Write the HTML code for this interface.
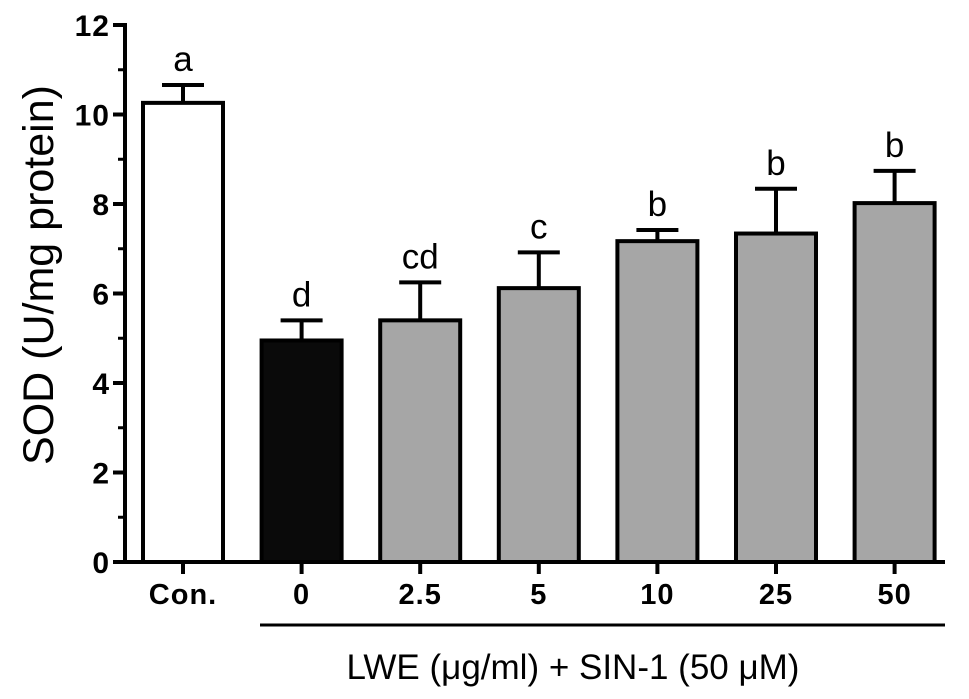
<!DOCTYPE html>
<html><head><meta charset="utf-8"><style>
body{margin:0;background:#fff}
svg{display:block}
text{font-family:"Liberation Sans",Arial,sans-serif;fill:#000}
</style></head><body>
<svg id="chart" width="969" height="699"></svg>
<script>
const categories=["Con.","0","2.5","5","10","25","50"];
const values=[10.26,4.95,5.4,6.12,7.17,7.34,8.02];
const errors=[0.4,0.45,0.85,0.8,0.25,1.0,0.72];
const letters=["a","d","cd","c","b","b","b"];
const fills=["#ffffff","#0a0a0a","#a6a6a6","#a6a6a6","#a6a6a6","#a6a6a6","#a6a6a6"];
const yTicks=[0,2,4,6,8,10,12];
const NS="http://www.w3.org/2000/svg";
const svg=document.getElementById("chart");
const y0=562,yTop=25,yMax=12,axisX=125;
const ys=v=>y0-(v/yMax)*(y0-yTop);
const xs=i=>183+i*118.6;
const bw=80;
function mk(tag,attrs,parent){const e=document.createElementNS(NS,tag);for(const k in attrs)e.setAttribute(k,attrs[k]);(parent||svg).appendChild(e);return e;}
categories.forEach((c,i)=>{
 const g=mk("g",{});
 
 
 const top=ys(values[i]),cap=ys(values[i]+errors[i]);
 mk("line",{x1:xs(i),x2:xs(i),y1:top,y2:cap,stroke:"#000","stroke-width":4},g);
 mk("line",{x1:xs(i)-21,x2:xs(i)+21,y1:cap,y2:cap,stroke:"#000","stroke-width":4},g);
 mk("rect",{x:xs(i)-bw/2,y:top,width:bw,height:y0-top,fill:fills[i],stroke:"#000","stroke-width":4},g);
 const t=mk("text",{x:xs(i),y:cap-14,"text-anchor":"middle","font-size":35},g);t.textContent=letters[i];
 
 
 mk("line",{x1:xs(i),x2:xs(i),y1:y0,y2:y0+12,stroke:"#000","stroke-width":4},g);
 const l=mk("text",{x:xs(i),y:604,"text-anchor":"middle","font-size":29,"font-weight":"bold","letter-spacing":1},g);l.textContent=c;
 
 
});
const ax=mk("line",{x1:axisX,x2:axisX,y1:yTop-2,y2:y0+2,stroke:"#000","stroke-width":4});


const xa=mk("line",{x1:axisX-12,x2:945,y1:y0,y2:y0,stroke:"#000","stroke-width":4});


yTicks.forEach(v=>{
 mk("line",{x1:axisX-12,x2:axisX,y1:ys(v),y2:ys(v),stroke:"#000","stroke-width":4});
 if(v<yMax) mk("line",{x1:axisX-7,x2:axisX,y1:ys(v+1),y2:ys(v+1),stroke:"#000","stroke-width":3});
 const t=mk("text",{x:axisX-15,y:ys(v)+11,"text-anchor":"end","font-size":30,"font-weight":"bold","letter-spacing":1});t.textContent=v;
 
 
});
const br=mk("line",{x1:260,x2:945,y1:625,y2:625,stroke:"#000","stroke-width":3});


const xt=mk("text",{x:573,y:679,"text-anchor":"middle","font-size":35});xt.textContent="LWE (μg/ml) + SIN-1 (50 μM)";


const yt=mk("text",{x:0,y:0,"text-anchor":"middle","font-size":43,transform:"translate(53,275) rotate(-90)"});yt.textContent="SOD (U/mg protein)";


</script>
</body></html>
